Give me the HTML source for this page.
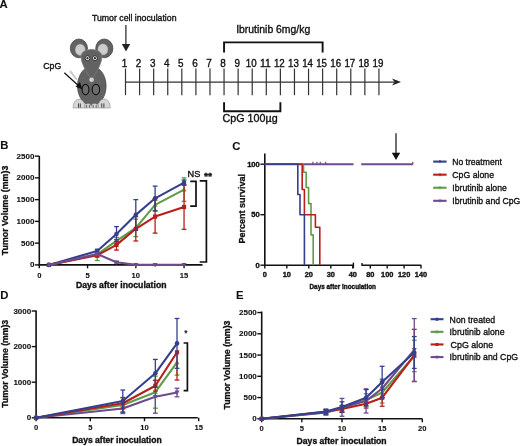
<!DOCTYPE html>
<html><head><meta charset="utf-8"><style>
html,body{margin:0;padding:0;background:#fff;}
svg{display:block;font-family:"Liberation Sans", sans-serif;will-change:transform;}
</style></head><body>
<svg width="520" height="446" viewBox="0 0 520 446">
<rect width="520" height="446" fill="#fff"/>
<text x="-0.4" y="8.2" font-size="11.3" font-weight="bold" fill="#111" stroke="#111" stroke-width="0.1">A</text>
<text x="92" y="21.3" font-size="8.8" textLength="84.5" lengthAdjust="spacingAndGlyphs" fill="#111" stroke="#111" stroke-width="0.35">Tumor cell inoculation</text>
<line x1="125.90" y1="25.00" x2="125.90" y2="46.00" stroke="#222" stroke-width="1.2"/>
<path d="M121.8,44 L130.2,44 L126,51.5 Z" fill="#222"/>
<line x1="125.50" y1="82.10" x2="394.00" y2="82.10" stroke="#333" stroke-width="1.3"/>
<path d="M392,78.6 L401,82.1 L392,85.6 L394.5,82.1 Z" fill="#222"/>
<line x1="125.50" y1="68.60" x2="125.50" y2="95.20" stroke="#333" stroke-width="1.2"/>
<text x="124.5" y="66.6" font-size="10.0" text-anchor="middle" textLength="5.5" lengthAdjust="spacingAndGlyphs" fill="#111" stroke="#111" stroke-width="0.35">1</text>
<line x1="139.58" y1="68.60" x2="139.58" y2="95.20" stroke="#333" stroke-width="1.2"/>
<text x="138.58" y="66.6" font-size="10.0" text-anchor="middle" textLength="5.5" lengthAdjust="spacingAndGlyphs" fill="#111" stroke="#111" stroke-width="0.35">2</text>
<line x1="153.66" y1="68.60" x2="153.66" y2="95.20" stroke="#333" stroke-width="1.2"/>
<text x="152.66" y="66.6" font-size="10.0" text-anchor="middle" textLength="5.5" lengthAdjust="spacingAndGlyphs" fill="#111" stroke="#111" stroke-width="0.35">3</text>
<line x1="167.74" y1="68.60" x2="167.74" y2="95.20" stroke="#333" stroke-width="1.2"/>
<text x="166.74" y="66.6" font-size="10.0" text-anchor="middle" textLength="5.5" lengthAdjust="spacingAndGlyphs" fill="#111" stroke="#111" stroke-width="0.35">4</text>
<line x1="181.82" y1="68.60" x2="181.82" y2="95.20" stroke="#333" stroke-width="1.2"/>
<text x="180.82" y="66.6" font-size="10.0" text-anchor="middle" textLength="5.5" lengthAdjust="spacingAndGlyphs" fill="#111" stroke="#111" stroke-width="0.35">5</text>
<line x1="195.90" y1="68.60" x2="195.90" y2="95.20" stroke="#333" stroke-width="1.2"/>
<text x="194.9" y="66.6" font-size="10.0" text-anchor="middle" textLength="5.5" lengthAdjust="spacingAndGlyphs" fill="#111" stroke="#111" stroke-width="0.35">6</text>
<line x1="209.98" y1="68.60" x2="209.98" y2="95.20" stroke="#333" stroke-width="1.2"/>
<text x="208.98" y="66.6" font-size="10.0" text-anchor="middle" textLength="5.5" lengthAdjust="spacingAndGlyphs" fill="#111" stroke="#111" stroke-width="0.35">7</text>
<line x1="224.06" y1="68.60" x2="224.06" y2="95.20" stroke="#333" stroke-width="1.2"/>
<text x="223.06" y="66.6" font-size="10.0" text-anchor="middle" textLength="5.5" lengthAdjust="spacingAndGlyphs" fill="#111" stroke="#111" stroke-width="0.35">8</text>
<line x1="238.14" y1="68.60" x2="238.14" y2="95.20" stroke="#333" stroke-width="1.2"/>
<text x="237.14" y="66.6" font-size="10.0" text-anchor="middle" textLength="5.5" lengthAdjust="spacingAndGlyphs" fill="#111" stroke="#111" stroke-width="0.35">9</text>
<line x1="252.22" y1="68.60" x2="252.22" y2="95.20" stroke="#333" stroke-width="1.2"/>
<text x="251.22" y="66.6" font-size="10.0" text-anchor="middle" textLength="10.8" lengthAdjust="spacingAndGlyphs" fill="#111" stroke="#111" stroke-width="0.35">10</text>
<line x1="266.30" y1="68.60" x2="266.30" y2="95.20" stroke="#333" stroke-width="1.2"/>
<text x="265.3" y="66.6" font-size="10.0" text-anchor="middle" textLength="10.8" lengthAdjust="spacingAndGlyphs" fill="#111" stroke="#111" stroke-width="0.35">11</text>
<line x1="280.38" y1="68.60" x2="280.38" y2="95.20" stroke="#333" stroke-width="1.2"/>
<text x="279.38" y="66.6" font-size="10.0" text-anchor="middle" textLength="10.8" lengthAdjust="spacingAndGlyphs" fill="#111" stroke="#111" stroke-width="0.35">12</text>
<line x1="294.46" y1="68.60" x2="294.46" y2="95.20" stroke="#333" stroke-width="1.2"/>
<text x="293.46" y="66.6" font-size="10.0" text-anchor="middle" textLength="10.8" lengthAdjust="spacingAndGlyphs" fill="#111" stroke="#111" stroke-width="0.35">13</text>
<line x1="308.54" y1="68.60" x2="308.54" y2="95.20" stroke="#333" stroke-width="1.2"/>
<text x="307.54" y="66.6" font-size="10.0" text-anchor="middle" textLength="10.8" lengthAdjust="spacingAndGlyphs" fill="#111" stroke="#111" stroke-width="0.35">14</text>
<line x1="322.62" y1="68.60" x2="322.62" y2="95.20" stroke="#333" stroke-width="1.2"/>
<text x="321.62" y="66.6" font-size="10.0" text-anchor="middle" textLength="10.8" lengthAdjust="spacingAndGlyphs" fill="#111" stroke="#111" stroke-width="0.35">15</text>
<line x1="336.70" y1="68.60" x2="336.70" y2="95.20" stroke="#333" stroke-width="1.2"/>
<text x="335.7" y="66.6" font-size="10.0" text-anchor="middle" textLength="10.8" lengthAdjust="spacingAndGlyphs" fill="#111" stroke="#111" stroke-width="0.35">16</text>
<line x1="350.78" y1="68.60" x2="350.78" y2="95.20" stroke="#333" stroke-width="1.2"/>
<text x="349.78" y="66.6" font-size="10.0" text-anchor="middle" textLength="10.8" lengthAdjust="spacingAndGlyphs" fill="#111" stroke="#111" stroke-width="0.35">17</text>
<line x1="364.86" y1="68.60" x2="364.86" y2="95.20" stroke="#333" stroke-width="1.2"/>
<text x="363.86" y="66.6" font-size="10.0" text-anchor="middle" textLength="10.8" lengthAdjust="spacingAndGlyphs" fill="#111" stroke="#111" stroke-width="0.35">18</text>
<line x1="378.94" y1="68.60" x2="378.94" y2="95.20" stroke="#333" stroke-width="1.2"/>
<text x="377.94" y="66.6" font-size="10.0" text-anchor="middle" textLength="10.8" lengthAdjust="spacingAndGlyphs" fill="#111" stroke="#111" stroke-width="0.35">19</text>
<path d="M224.06,52.5 L224.06,42.4 L322.62,42.4 L322.62,52.5" fill="none" stroke="#111" stroke-width="1.9"/>
<text x="236.2" y="33.4" font-size="10.5" textLength="74" lengthAdjust="spacingAndGlyphs" fill="#111" stroke="#111" stroke-width="0.35">Ibrutinib 6mg/kg</text>
<path d="M224.06,102.3 L224.06,111.2 L280.38,111.2 L280.38,102.3" fill="none" stroke="#111" stroke-width="1.9"/>
<text x="222.6" y="122.1" font-size="10.5" textLength="55" lengthAdjust="spacingAndGlyphs" fill="#111" stroke="#111" stroke-width="0.35">CpG 100µg</text>
<ellipse cx="78.9" cy="48.4" rx="8.6" ry="9.4" fill="#626262" stroke="#3e3e3e" stroke-width="0.7"/>
<ellipse cx="104.3" cy="48.4" rx="8.6" ry="9.4" fill="#626262" stroke="#3e3e3e" stroke-width="0.7"/>
<ellipse cx="80.2" cy="49.7" rx="5.1" ry="5.7" fill="#cdcdcd" stroke="#8a8a8a" stroke-width="0.5"/>
<ellipse cx="102.9" cy="49.4" rx="5.1" ry="5.7" fill="#cdcdcd" stroke="#8a8a8a" stroke-width="0.5"/>
<path d="M70.6,71.6 L73.5,75.5 L76.2,79" fill="none" stroke="#c6c6c6" stroke-width="1.9" stroke-linecap="round"/>
<circle cx="71" cy="72.2" r="1.3" fill="#cfcfcf"/>
<ellipse cx="91.8" cy="86" rx="14.3" ry="19.6" fill="#626262" stroke="#3e3e3e" stroke-width="0.7"/>
<path d="M91.6,79.5 C86,72 80.6,62 81.1,56 C81.8,47.4 101.2,47.4 101.8,56 C102.3,62 97.2,72 91.6,79.5 Z" fill="#626262" stroke="#7c7c7c" stroke-width="0.8"/>
<circle cx="87.5" cy="58.2" r="2.45" fill="#ececec" stroke="#262626" stroke-width="0.9"/>
<circle cx="87.5" cy="58.2" r="1.1" fill="#262626"/>
<circle cx="94.9" cy="58.2" r="2.45" fill="#ececec" stroke="#262626" stroke-width="0.9"/>
<circle cx="94.9" cy="58.2" r="1.1" fill="#262626"/>
<circle cx="91.6" cy="79.8" r="2.3" fill="#d4d4d4"/>
<ellipse cx="85.5" cy="89.6" rx="3.4" ry="5.2" fill="#6c6c6c" stroke="#141414" stroke-width="1.2"/>
<ellipse cx="95.9" cy="89.6" rx="3.7" ry="5.2" fill="#6c6c6c" stroke="#141414" stroke-width="1.2"/>
<path d="M73.1,108 C73.1,96.3 84.9,96.3 84.9,108 Z" fill="#d6d6d6" stroke="#8a8a8a" stroke-width="0.6"/>
<path d="M98,108 C98,96 110.2,96 110.2,108 Z" fill="#d6d6d6" stroke="#8a8a8a" stroke-width="0.6"/>
<path d="M84.8,108 L84.8,106.5 C84.8,102.5 91.2,102.5 91.2,106.5 C91.2,102.5 98,102.5 98,106.5 L98,108 Z" fill="#d6d6d6" stroke="#7a7a7a" stroke-width="0.5"/>
<line x1="78.50" y1="103.40" x2="78.50" y2="107.70" stroke="#222" stroke-width="0.8"/>
<line x1="80.30" y1="103.40" x2="80.30" y2="107.70" stroke="#222" stroke-width="0.8"/>
<line x1="101.80" y1="103.40" x2="101.80" y2="107.70" stroke="#222" stroke-width="0.8"/>
<line x1="103.90" y1="103.40" x2="103.90" y2="107.70" stroke="#222" stroke-width="0.8"/>
<line x1="86.60" y1="105.00" x2="86.60" y2="107.70" stroke="#333" stroke-width="0.7"/>
<line x1="89.40" y1="105.00" x2="89.40" y2="107.70" stroke="#333" stroke-width="0.7"/>
<line x1="93.20" y1="105.00" x2="93.20" y2="107.70" stroke="#333" stroke-width="0.7"/>
<line x1="96.20" y1="105.00" x2="96.20" y2="107.70" stroke="#333" stroke-width="0.7"/>
<text x="43.2" y="69.4" font-size="8.6" textLength="18" lengthAdjust="spacingAndGlyphs" fill="#111" stroke="#111" stroke-width="0.35">CpG</text>
<line x1="64.30" y1="72.80" x2="78.60" y2="85.80" stroke="#111" stroke-width="1.2"/>
<path d="M82.3,89.2 L75.6,86.8 L79.9,82 Z" fill="#111"/>
<text x="0.2" y="149.3" font-size="11.3" font-weight="bold" fill="#111" stroke="#111" stroke-width="0.1">B</text>
<line x1="39.30" y1="156.00" x2="39.30" y2="265.70" stroke="#111" stroke-width="1.6"/>
<line x1="34.90" y1="264.90" x2="39.30" y2="264.90" stroke="#111" stroke-width="1.4"/>
<text x="34.4" y="267.4" font-size="8" font-weight="bold" text-anchor="end" fill="#111" stroke="#111" stroke-width="0.1">0</text>
<line x1="34.90" y1="243.14" x2="39.30" y2="243.14" stroke="#111" stroke-width="1.4"/>
<text x="34.4" y="245.64" font-size="8" font-weight="bold" text-anchor="end" fill="#111" stroke="#111" stroke-width="0.1">500</text>
<line x1="34.90" y1="221.38" x2="39.30" y2="221.38" stroke="#111" stroke-width="1.4"/>
<text x="34.4" y="223.88" font-size="8" font-weight="bold" text-anchor="end" fill="#111" stroke="#111" stroke-width="0.1">1000</text>
<line x1="34.90" y1="199.62" x2="39.30" y2="199.62" stroke="#111" stroke-width="1.4"/>
<text x="34.4" y="202.12" font-size="8" font-weight="bold" text-anchor="end" fill="#111" stroke="#111" stroke-width="0.1">1500</text>
<line x1="34.90" y1="177.86" x2="39.30" y2="177.86" stroke="#111" stroke-width="1.4"/>
<text x="34.4" y="180.36" font-size="8" font-weight="bold" text-anchor="end" fill="#111" stroke="#111" stroke-width="0.1">2000</text>
<line x1="34.90" y1="156.10" x2="39.30" y2="156.10" stroke="#111" stroke-width="1.4"/>
<text x="34.4" y="158.6" font-size="8" font-weight="bold" text-anchor="end" fill="#111" stroke="#111" stroke-width="0.1">2500</text>
<line x1="38.50" y1="264.90" x2="202.50" y2="264.90" stroke="#111" stroke-width="1.6"/>
<line x1="39.30" y1="264.90" x2="39.30" y2="268.30" stroke="#111" stroke-width="1.4"/>
<text x="39.3" y="277.5" font-size="7.6" font-weight="bold" text-anchor="middle" fill="#111" stroke="#111" stroke-width="0.1">0</text>
<line x1="87.55" y1="264.90" x2="87.55" y2="268.30" stroke="#111" stroke-width="1.4"/>
<text x="87.55" y="277.5" font-size="7.6" font-weight="bold" text-anchor="middle" fill="#111" stroke="#111" stroke-width="0.1">5</text>
<line x1="135.80" y1="264.90" x2="135.80" y2="268.30" stroke="#111" stroke-width="1.4"/>
<text x="135.8" y="277.5" font-size="7.6" font-weight="bold" text-anchor="middle" fill="#111" stroke="#111" stroke-width="0.1">10</text>
<line x1="184.05" y1="264.90" x2="184.05" y2="268.30" stroke="#111" stroke-width="1.4"/>
<text x="184.05" y="277.5" font-size="7.6" font-weight="bold" text-anchor="middle" fill="#111" stroke="#111" stroke-width="0.1">15</text>
<text transform="translate(8.3,255.2) rotate(-90)" x="0" y="0" font-size="8.6" font-weight="bold" textLength="89.5" lengthAdjust="spacingAndGlyphs" fill="#111" stroke="#111" stroke-width="0.3">Tumor Volume (mm)3</text>
<text x="76.0" y="288.4" font-size="8.6" font-weight="bold" textLength="90.5" lengthAdjust="spacingAndGlyphs" fill="#111" stroke="#111" stroke-width="0.35">Days after inoculation</text>
<line x1="97.20" y1="254.46" x2="97.20" y2="260.55" stroke="#5e9c47" stroke-width="1.3"/>
<line x1="94.80" y1="260.55" x2="99.60" y2="260.55" stroke="#5e9c47" stroke-width="1.3"/>
<line x1="116.50" y1="237.48" x2="116.50" y2="244.45" stroke="#5e9c47" stroke-width="1.3"/>
<line x1="114.10" y1="237.48" x2="118.90" y2="237.48" stroke="#5e9c47" stroke-width="1.3"/>
<line x1="114.10" y1="244.45" x2="118.90" y2="244.45" stroke="#5e9c47" stroke-width="1.3"/>
<line x1="135.80" y1="219.20" x2="135.80" y2="236.61" stroke="#5e9c47" stroke-width="1.3"/>
<line x1="133.40" y1="219.20" x2="138.20" y2="219.20" stroke="#5e9c47" stroke-width="1.3"/>
<line x1="133.40" y1="236.61" x2="138.20" y2="236.61" stroke="#5e9c47" stroke-width="1.3"/>
<line x1="155.10" y1="198.31" x2="155.10" y2="211.37" stroke="#5e9c47" stroke-width="1.3"/>
<line x1="152.70" y1="198.31" x2="157.50" y2="198.31" stroke="#5e9c47" stroke-width="1.3"/>
<line x1="152.70" y1="211.37" x2="157.50" y2="211.37" stroke="#5e9c47" stroke-width="1.3"/>
<line x1="184.05" y1="177.86" x2="184.05" y2="201.36" stroke="#5e9c47" stroke-width="1.3"/>
<line x1="181.65" y1="177.86" x2="186.45" y2="177.86" stroke="#5e9c47" stroke-width="1.3"/>
<line x1="181.65" y1="201.36" x2="186.45" y2="201.36" stroke="#5e9c47" stroke-width="1.3"/>
<polyline points="48.95,264.90 97.20,254.46 116.50,240.96 135.80,227.91 155.10,204.84 184.05,189.61" fill="none" stroke="#5e9c47" stroke-width="2.1" stroke-linejoin="round"/>
<path d="M48.95,262.20 L51.45,266.80 L46.45,266.80 Z" fill="#5e9c47"/>
<path d="M97.20,251.76 L99.70,256.36 L94.70,256.36 Z" fill="#5e9c47"/>
<path d="M116.50,238.26 L119.00,242.86 L114.00,242.86 Z" fill="#5e9c47"/>
<path d="M135.80,225.21 L138.30,229.81 L133.30,229.81 Z" fill="#5e9c47"/>
<path d="M155.10,202.14 L157.60,206.74 L152.60,206.74 Z" fill="#5e9c47"/>
<path d="M184.05,186.91 L186.55,191.51 L181.55,191.51 Z" fill="#5e9c47"/>
<line x1="97.20" y1="253.58" x2="97.20" y2="257.07" stroke="#b81e1a" stroke-width="1.3"/>
<line x1="94.80" y1="253.58" x2="99.60" y2="253.58" stroke="#b81e1a" stroke-width="1.3"/>
<line x1="94.80" y1="257.07" x2="99.60" y2="257.07" stroke="#b81e1a" stroke-width="1.3"/>
<line x1="116.50" y1="239.66" x2="116.50" y2="250.10" stroke="#b81e1a" stroke-width="1.3"/>
<line x1="114.10" y1="239.66" x2="118.90" y2="239.66" stroke="#b81e1a" stroke-width="1.3"/>
<line x1="114.10" y1="250.10" x2="118.90" y2="250.10" stroke="#b81e1a" stroke-width="1.3"/>
<line x1="135.80" y1="216.59" x2="135.80" y2="240.96" stroke="#b81e1a" stroke-width="1.3"/>
<line x1="133.40" y1="216.59" x2="138.20" y2="216.59" stroke="#b81e1a" stroke-width="1.3"/>
<line x1="133.40" y1="240.96" x2="138.20" y2="240.96" stroke="#b81e1a" stroke-width="1.3"/>
<line x1="155.10" y1="200.06" x2="155.10" y2="233.13" stroke="#b81e1a" stroke-width="1.3"/>
<line x1="152.70" y1="200.06" x2="157.50" y2="200.06" stroke="#b81e1a" stroke-width="1.3"/>
<line x1="152.70" y1="233.13" x2="157.50" y2="233.13" stroke="#b81e1a" stroke-width="1.3"/>
<line x1="184.05" y1="184.74" x2="184.05" y2="229.30" stroke="#b81e1a" stroke-width="1.3"/>
<line x1="181.65" y1="184.74" x2="186.45" y2="184.74" stroke="#b81e1a" stroke-width="1.3"/>
<line x1="181.65" y1="229.30" x2="186.45" y2="229.30" stroke="#b81e1a" stroke-width="1.3"/>
<polyline points="48.95,264.90 97.20,255.33 116.50,244.88 135.80,228.78 155.10,216.59 184.05,207.02" fill="none" stroke="#b81e1a" stroke-width="2.1" stroke-linejoin="round"/>
<rect x="46.85" y="262.80" width="4.20" height="4.20" fill="#b81e1a"/>
<rect x="95.10" y="253.23" width="4.20" height="4.20" fill="#b81e1a"/>
<rect x="114.40" y="242.78" width="4.20" height="4.20" fill="#b81e1a"/>
<rect x="133.70" y="226.68" width="4.20" height="4.20" fill="#b81e1a"/>
<rect x="153.00" y="214.49" width="4.20" height="4.20" fill="#b81e1a"/>
<rect x="181.95" y="204.92" width="4.20" height="4.20" fill="#b81e1a"/>
<line x1="97.20" y1="249.23" x2="97.20" y2="252.71" stroke="#343f8e" stroke-width="1.3"/>
<line x1="94.80" y1="249.23" x2="99.60" y2="249.23" stroke="#343f8e" stroke-width="1.3"/>
<line x1="94.80" y1="252.71" x2="99.60" y2="252.71" stroke="#343f8e" stroke-width="1.3"/>
<line x1="116.50" y1="226.60" x2="116.50" y2="241.40" stroke="#343f8e" stroke-width="1.3"/>
<line x1="114.10" y1="226.60" x2="118.90" y2="226.60" stroke="#343f8e" stroke-width="1.3"/>
<line x1="114.10" y1="241.40" x2="118.90" y2="241.40" stroke="#343f8e" stroke-width="1.3"/>
<line x1="135.80" y1="199.62" x2="135.80" y2="230.08" stroke="#343f8e" stroke-width="1.3"/>
<line x1="133.40" y1="199.62" x2="138.20" y2="199.62" stroke="#343f8e" stroke-width="1.3"/>
<line x1="133.40" y1="230.08" x2="138.20" y2="230.08" stroke="#343f8e" stroke-width="1.3"/>
<line x1="155.10" y1="186.13" x2="155.10" y2="210.50" stroke="#343f8e" stroke-width="1.3"/>
<line x1="152.70" y1="186.13" x2="157.50" y2="186.13" stroke="#343f8e" stroke-width="1.3"/>
<line x1="152.70" y1="210.50" x2="157.50" y2="210.50" stroke="#343f8e" stroke-width="1.3"/>
<line x1="184.05" y1="180.04" x2="184.05" y2="185.26" stroke="#343f8e" stroke-width="1.3"/>
<line x1="181.65" y1="180.04" x2="186.45" y2="180.04" stroke="#343f8e" stroke-width="1.3"/>
<line x1="181.65" y1="185.26" x2="186.45" y2="185.26" stroke="#343f8e" stroke-width="1.3"/>
<polyline points="48.95,264.90 97.20,250.97 116.50,234.00 135.80,214.85 155.10,198.31 184.05,182.65" fill="none" stroke="#343f8e" stroke-width="2.1" stroke-linejoin="round"/>
<circle cx="48.95" cy="264.90" r="2.30" fill="#343f8e"/>
<circle cx="97.20" cy="250.97" r="2.30" fill="#343f8e"/>
<circle cx="116.50" cy="234.00" r="2.30" fill="#343f8e"/>
<circle cx="135.80" cy="214.85" r="2.30" fill="#343f8e"/>
<circle cx="155.10" cy="198.31" r="2.30" fill="#343f8e"/>
<circle cx="184.05" cy="182.65" r="2.30" fill="#343f8e"/>
<line x1="97.20" y1="252.71" x2="97.20" y2="255.33" stroke="#6c4b8e" stroke-width="1.3"/>
<line x1="94.80" y1="252.71" x2="99.60" y2="252.71" stroke="#6c4b8e" stroke-width="1.3"/>
<line x1="94.80" y1="255.33" x2="99.60" y2="255.33" stroke="#6c4b8e" stroke-width="1.3"/>
<line x1="116.50" y1="261.42" x2="116.50" y2="263.16" stroke="#6c4b8e" stroke-width="1.3"/>
<line x1="114.10" y1="261.42" x2="118.90" y2="261.42" stroke="#6c4b8e" stroke-width="1.3"/>
<line x1="114.10" y1="263.16" x2="118.90" y2="263.16" stroke="#6c4b8e" stroke-width="1.3"/>
<polyline points="48.95,264.90 97.20,254.02 116.50,262.29 135.80,264.90 155.10,264.90 184.05,264.90" fill="none" stroke="#6c4b8e" stroke-width="2.1" stroke-linejoin="round"/>
<path d="M48.95,267.60 L51.45,263.00 L46.45,263.00 Z" fill="#6c4b8e"/>
<path d="M97.20,256.72 L99.70,252.12 L94.70,252.12 Z" fill="#6c4b8e"/>
<path d="M116.50,264.99 L119.00,260.39 L114.00,260.39 Z" fill="#6c4b8e"/>
<path d="M135.80,267.60 L138.30,263.00 L133.30,263.00 Z" fill="#6c4b8e"/>
<path d="M155.10,267.60 L157.60,263.00 L152.60,263.00 Z" fill="#6c4b8e"/>
<path d="M184.05,267.60 L186.55,263.00 L181.55,263.00 Z" fill="#6c4b8e"/>
<path d="M190.2,181.3 L196,181.3 L196,206.2 L190.2,206.2" fill="none" stroke="#111" stroke-width="1.7"/>
<path d="M199.7,180.8 L206.4,180.8 L206.4,262 L199.7,262" fill="none" stroke="#111" stroke-width="1.7"/>
<text x="187.6" y="176.8" font-size="8.8" textLength="12.8" lengthAdjust="spacingAndGlyphs" fill="#111" stroke="#111" stroke-width="0.35">NS</text>
<text x="204.0" y="178.8" font-size="8.5" font-weight="bold" textLength="8.2" lengthAdjust="spacingAndGlyphs" fill="#111" stroke="#111" stroke-width="0.35">**</text>
<text x="232.3" y="150.2" font-size="11.3" font-weight="bold" fill="#111" stroke="#111" stroke-width="0.1">C</text>
<line x1="264.80" y1="153.50" x2="264.80" y2="266.00" stroke="#111" stroke-width="1.6"/>
<line x1="260.40" y1="265.20" x2="264.80" y2="265.20" stroke="#111" stroke-width="1.4"/>
<text x="259.8" y="267.95" font-size="7.6" font-weight="bold" text-anchor="end" fill="#111" stroke="#111" stroke-width="0.35">0</text>
<line x1="260.40" y1="214.70" x2="264.80" y2="214.70" stroke="#111" stroke-width="1.4"/>
<text x="259.8" y="217.45" font-size="7.6" font-weight="bold" text-anchor="end" fill="#111" stroke="#111" stroke-width="0.35">50</text>
<line x1="260.40" y1="164.20" x2="264.80" y2="164.20" stroke="#111" stroke-width="1.4"/>
<text x="259.8" y="166.95" font-size="7.6" font-weight="bold" text-anchor="end" fill="#111" stroke="#111" stroke-width="0.35">100</text>
<line x1="264.00" y1="265.20" x2="353.40" y2="265.20" stroke="#111" stroke-width="1.6"/>
<line x1="353.40" y1="262.60" x2="353.40" y2="268.20" stroke="#111" stroke-width="1.4"/>
<line x1="264.80" y1="265.20" x2="264.80" y2="268.40" stroke="#111" stroke-width="1.4"/>
<text x="264.8" y="277.0" font-size="7.4" font-weight="bold" text-anchor="middle" fill="#111" stroke="#111" stroke-width="0.35">0</text>
<line x1="286.80" y1="265.20" x2="286.80" y2="268.40" stroke="#111" stroke-width="1.4"/>
<text x="286.8" y="277.0" font-size="7.4" font-weight="bold" text-anchor="middle" fill="#111" stroke="#111" stroke-width="0.35">10</text>
<line x1="308.80" y1="265.20" x2="308.80" y2="268.40" stroke="#111" stroke-width="1.4"/>
<text x="308.8" y="277.0" font-size="7.4" font-weight="bold" text-anchor="middle" fill="#111" stroke="#111" stroke-width="0.35">20</text>
<line x1="330.80" y1="265.20" x2="330.80" y2="268.40" stroke="#111" stroke-width="1.4"/>
<text x="330.8" y="277.0" font-size="7.4" font-weight="bold" text-anchor="middle" fill="#111" stroke="#111" stroke-width="0.35">30</text>
<line x1="352.80" y1="265.20" x2="352.80" y2="268.40" stroke="#111" stroke-width="1.4"/>
<text x="352.8" y="277.0" font-size="7.4" font-weight="bold" text-anchor="middle" fill="#111" stroke="#111" stroke-width="0.35">40</text>
<line x1="362.00" y1="265.20" x2="421.30" y2="265.20" stroke="#111" stroke-width="1.6"/>
<line x1="362.00" y1="263.00" x2="362.00" y2="266.00" stroke="#111" stroke-width="1.4"/>
<line x1="370.30" y1="265.20" x2="370.30" y2="268.40" stroke="#111" stroke-width="1.4"/>
<text x="370.3" y="277.0" font-size="7.4" font-weight="bold" text-anchor="middle" fill="#111" stroke="#111" stroke-width="0.35">80</text>
<line x1="387.20" y1="265.20" x2="387.20" y2="268.40" stroke="#111" stroke-width="1.4"/>
<text x="387.2" y="277.0" font-size="7.4" font-weight="bold" text-anchor="middle" fill="#111" stroke="#111" stroke-width="0.35">100</text>
<line x1="404.10" y1="265.20" x2="404.10" y2="268.40" stroke="#111" stroke-width="1.4"/>
<text x="404.1" y="277.0" font-size="7.4" font-weight="bold" text-anchor="middle" fill="#111" stroke="#111" stroke-width="0.35">120</text>
<line x1="421.00" y1="265.20" x2="421.00" y2="268.40" stroke="#111" stroke-width="1.4"/>
<text x="421.0" y="277.0" font-size="7.4" font-weight="bold" text-anchor="middle" fill="#111" stroke="#111" stroke-width="0.35">140</text>
<text transform="translate(245.3,243.6) rotate(-90)" x="0" y="0" font-size="9" font-weight="bold" textLength="69.6" lengthAdjust="spacingAndGlyphs" fill="#111" stroke="#111" stroke-width="0.3">Percent survival</text>
<text x="309.5" y="288.6" font-size="6.4" font-weight="bold" textLength="66.5" lengthAdjust="spacingAndGlyphs" fill="#111" stroke="#111" stroke-width="0.35">Days after inoculation</text>
<line x1="264.80" y1="164.20" x2="353.50" y2="164.20" stroke="#6c4b8e" stroke-width="1.9"/>
<line x1="361.20" y1="164.20" x2="413.00" y2="164.20" stroke="#6c4b8e" stroke-width="1.9"/>
<line x1="412.80" y1="164.20" x2="412.80" y2="161.80" stroke="#6c4b8e" stroke-width="1.2"/>
<line x1="312.90" y1="164.20" x2="312.90" y2="161.80" stroke="#6c4b8e" stroke-width="1.2"/>
<line x1="316.90" y1="164.20" x2="316.90" y2="161.80" stroke="#6c4b8e" stroke-width="1.2"/>
<line x1="320.30" y1="164.20" x2="320.30" y2="161.80" stroke="#6c4b8e" stroke-width="1.2"/>
<line x1="325.70" y1="164.20" x2="325.70" y2="161.80" stroke="#6c4b8e" stroke-width="1.2"/>
<polyline points="264.80,164.20 303.52,164.20 303.52,172.28 306.16,172.28 306.16,187.43 308.58,187.43 308.58,203.59 311.00,203.59 311.00,234.90 313.20,234.90 313.20,265.20" fill="none" stroke="#5e9c47" stroke-width="1.6" stroke-linejoin="round" stroke-linejoin="miter"/>
<polyline points="264.80,164.20 302.20,164.20 302.20,189.45 304.40,189.45 304.40,214.70 315.40,214.70 315.40,227.32 319.80,227.32 319.80,265.20" fill="none" stroke="#b81e1a" stroke-width="1.6" stroke-linejoin="round" stroke-linejoin="miter"/>
<polyline points="264.80,164.20 297.80,164.20 297.80,194.50 300.00,194.50 300.00,214.70 304.40,214.70 304.40,265.20" fill="none" stroke="#343f8e" stroke-width="1.6" stroke-linejoin="round" stroke-linejoin="miter"/>
<line x1="396.00" y1="133.30" x2="396.00" y2="154.00" stroke="#111" stroke-width="1.2"/>
<path d="M391.8,152.8 L400.2,152.8 L396,160 Z" fill="#111"/>
<line x1="433.20" y1="161.60" x2="446.60" y2="161.60" stroke="#343f8e" stroke-width="2.1"/>
<line x1="440.00" y1="160.10" x2="440.00" y2="163.10" stroke="#343f8e" stroke-width="1.2"/>
<text x="452.3" y="164.8" font-size="9.6" textLength="49.5" lengthAdjust="spacingAndGlyphs" fill="#111" stroke="#111" stroke-width="0.35">No treatment</text>
<line x1="433.20" y1="174.67" x2="446.60" y2="174.67" stroke="#b81e1a" stroke-width="2.1"/>
<line x1="440.00" y1="173.17" x2="440.00" y2="176.17" stroke="#b81e1a" stroke-width="1.2"/>
<text x="452.3" y="177.87" font-size="9.6" textLength="41.8" lengthAdjust="spacingAndGlyphs" fill="#111" stroke="#111" stroke-width="0.35">CpG alone</text>
<line x1="433.20" y1="187.74" x2="446.60" y2="187.74" stroke="#5e9c47" stroke-width="2.1"/>
<line x1="440.00" y1="186.24" x2="440.00" y2="189.24" stroke="#5e9c47" stroke-width="1.2"/>
<text x="452.3" y="190.94" font-size="9.6" textLength="54.5" lengthAdjust="spacingAndGlyphs" fill="#111" stroke="#111" stroke-width="0.35">Ibrutinib alone</text>
<line x1="433.20" y1="200.81" x2="446.60" y2="200.81" stroke="#6c4b8e" stroke-width="2.1"/>
<line x1="440.00" y1="199.31" x2="440.00" y2="202.31" stroke="#6c4b8e" stroke-width="1.2"/>
<text x="452.3" y="204.01" font-size="9.6" textLength="68" lengthAdjust="spacingAndGlyphs" fill="#111" stroke="#111" stroke-width="0.35">Ibrutinib and CpG</text>
<text x="0.2" y="298.7" font-size="11.3" font-weight="bold" fill="#111" stroke="#111" stroke-width="0.1">D</text>
<line x1="36.10" y1="310.50" x2="36.10" y2="418.60" stroke="#111" stroke-width="1.6"/>
<line x1="31.70" y1="417.80" x2="36.10" y2="417.80" stroke="#111" stroke-width="1.4"/>
<text x="31.2" y="420.3" font-size="8" font-weight="bold" text-anchor="end" fill="#111" stroke="#111" stroke-width="0.1">0</text>
<line x1="31.70" y1="382.20" x2="36.10" y2="382.20" stroke="#111" stroke-width="1.4"/>
<text x="31.2" y="384.7" font-size="8" font-weight="bold" text-anchor="end" fill="#111" stroke="#111" stroke-width="0.1">1000</text>
<line x1="31.70" y1="346.60" x2="36.10" y2="346.60" stroke="#111" stroke-width="1.4"/>
<text x="31.2" y="349.1" font-size="8" font-weight="bold" text-anchor="end" fill="#111" stroke="#111" stroke-width="0.1">2000</text>
<line x1="31.70" y1="311.00" x2="36.10" y2="311.00" stroke="#111" stroke-width="1.4"/>
<text x="31.2" y="313.5" font-size="8" font-weight="bold" text-anchor="end" fill="#111" stroke="#111" stroke-width="0.1">3000</text>
<line x1="35.30" y1="417.80" x2="197.80" y2="417.80" stroke="#111" stroke-width="1.6"/>
<line x1="36.10" y1="417.80" x2="36.10" y2="421.20" stroke="#111" stroke-width="1.4"/>
<text x="36.1" y="430.4" font-size="7.6" font-weight="bold" text-anchor="middle" fill="#111" stroke="#111" stroke-width="0.1">0</text>
<line x1="90.30" y1="417.80" x2="90.30" y2="421.20" stroke="#111" stroke-width="1.4"/>
<text x="90.3" y="430.4" font-size="7.6" font-weight="bold" text-anchor="middle" fill="#111" stroke="#111" stroke-width="0.1">5</text>
<line x1="144.50" y1="417.80" x2="144.50" y2="421.20" stroke="#111" stroke-width="1.4"/>
<text x="144.5" y="430.4" font-size="7.6" font-weight="bold" text-anchor="middle" fill="#111" stroke="#111" stroke-width="0.1">10</text>
<line x1="198.70" y1="417.80" x2="198.70" y2="421.20" stroke="#111" stroke-width="1.4"/>
<text x="198.7" y="430.4" font-size="7.6" font-weight="bold" text-anchor="middle" fill="#111" stroke="#111" stroke-width="0.1">15</text>
<text transform="translate(8.2,407.8) rotate(-90)" x="0" y="0" font-size="8.6" font-weight="bold" textLength="88" lengthAdjust="spacingAndGlyphs" fill="#111" stroke="#111" stroke-width="0.3">Tumor Volume (mm)3</text>
<text x="72.2" y="443.0" font-size="8.6" font-weight="bold" textLength="89.5" lengthAdjust="spacingAndGlyphs" fill="#111" stroke="#111" stroke-width="0.35">Days after inoculation</text>
<line x1="122.82" y1="397.86" x2="122.82" y2="412.10" stroke="#5e9c47" stroke-width="1.3"/>
<line x1="120.42" y1="397.86" x2="125.22" y2="397.86" stroke="#5e9c47" stroke-width="1.3"/>
<line x1="120.42" y1="412.10" x2="125.22" y2="412.10" stroke="#5e9c47" stroke-width="1.3"/>
<line x1="155.34" y1="376.15" x2="155.34" y2="408.19" stroke="#5e9c47" stroke-width="1.3"/>
<line x1="152.94" y1="376.15" x2="157.74" y2="376.15" stroke="#5e9c47" stroke-width="1.3"/>
<line x1="152.94" y1="408.19" x2="157.74" y2="408.19" stroke="#5e9c47" stroke-width="1.3"/>
<line x1="177.02" y1="362.26" x2="177.02" y2="375.08" stroke="#5e9c47" stroke-width="1.3"/>
<line x1="174.62" y1="375.08" x2="179.42" y2="375.08" stroke="#5e9c47" stroke-width="1.3"/>
<polyline points="36.10,417.80 122.82,404.98 155.34,392.17 177.02,362.26" fill="none" stroke="#5e9c47" stroke-width="2.1" stroke-linejoin="round"/>
<path d="M36.10,415.10 L38.60,419.70 L33.60,419.70 Z" fill="#5e9c47"/>
<path d="M122.82,402.28 L125.32,406.88 L120.32,406.88 Z" fill="#5e9c47"/>
<path d="M155.34,389.47 L157.84,394.07 L152.84,394.07 Z" fill="#5e9c47"/>
<path d="M177.02,359.56 L179.52,364.16 L174.52,364.16 Z" fill="#5e9c47"/>
<line x1="122.82" y1="403.56" x2="122.82" y2="413.53" stroke="#6c4b8e" stroke-width="1.3"/>
<line x1="120.42" y1="403.56" x2="125.22" y2="403.56" stroke="#6c4b8e" stroke-width="1.3"/>
<line x1="120.42" y1="413.53" x2="125.22" y2="413.53" stroke="#6c4b8e" stroke-width="1.3"/>
<line x1="155.34" y1="380.42" x2="155.34" y2="413.17" stroke="#6c4b8e" stroke-width="1.3"/>
<line x1="152.94" y1="380.42" x2="157.74" y2="380.42" stroke="#6c4b8e" stroke-width="1.3"/>
<line x1="152.94" y1="413.17" x2="157.74" y2="413.17" stroke="#6c4b8e" stroke-width="1.3"/>
<line x1="177.02" y1="388.25" x2="177.02" y2="396.80" stroke="#6c4b8e" stroke-width="1.3"/>
<line x1="174.62" y1="388.25" x2="179.42" y2="388.25" stroke="#6c4b8e" stroke-width="1.3"/>
<line x1="174.62" y1="396.80" x2="179.42" y2="396.80" stroke="#6c4b8e" stroke-width="1.3"/>
<polyline points="36.10,417.80 122.82,408.54 155.34,396.80 177.02,392.52" fill="none" stroke="#6c4b8e" stroke-width="2.1" stroke-linejoin="round"/>
<path d="M36.10,420.50 L38.60,415.90 L33.60,415.90 Z" fill="#6c4b8e"/>
<path d="M122.82,411.24 L125.32,406.64 L120.32,406.64 Z" fill="#6c4b8e"/>
<path d="M155.34,399.50 L157.84,394.90 L152.84,394.90 Z" fill="#6c4b8e"/>
<path d="M177.02,395.22 L179.52,390.62 L174.52,390.62 Z" fill="#6c4b8e"/>
<line x1="122.82" y1="397.51" x2="122.82" y2="408.90" stroke="#b81e1a" stroke-width="1.3"/>
<line x1="120.42" y1="397.51" x2="125.22" y2="397.51" stroke="#b81e1a" stroke-width="1.3"/>
<line x1="120.42" y1="408.90" x2="125.22" y2="408.90" stroke="#b81e1a" stroke-width="1.3"/>
<line x1="155.34" y1="380.42" x2="155.34" y2="391.10" stroke="#b81e1a" stroke-width="1.3"/>
<line x1="152.94" y1="380.42" x2="157.74" y2="380.42" stroke="#b81e1a" stroke-width="1.3"/>
<line x1="152.94" y1="391.10" x2="157.74" y2="391.10" stroke="#b81e1a" stroke-width="1.3"/>
<line x1="177.02" y1="352.30" x2="177.02" y2="380.06" stroke="#b81e1a" stroke-width="1.3"/>
<line x1="174.62" y1="380.06" x2="179.42" y2="380.06" stroke="#b81e1a" stroke-width="1.3"/>
<polyline points="36.10,417.80 122.82,403.20 155.34,385.76 177.02,352.30" fill="none" stroke="#b81e1a" stroke-width="2.1" stroke-linejoin="round"/>
<rect x="34.00" y="415.70" width="4.20" height="4.20" fill="#b81e1a"/>
<rect x="120.72" y="401.10" width="4.20" height="4.20" fill="#b81e1a"/>
<rect x="153.24" y="383.66" width="4.20" height="4.20" fill="#b81e1a"/>
<rect x="174.92" y="350.20" width="4.20" height="4.20" fill="#b81e1a"/>
<line x1="122.82" y1="390.03" x2="122.82" y2="412.10" stroke="#343f8e" stroke-width="1.3"/>
<line x1="120.42" y1="390.03" x2="125.22" y2="390.03" stroke="#343f8e" stroke-width="1.3"/>
<line x1="120.42" y1="412.10" x2="125.22" y2="412.10" stroke="#343f8e" stroke-width="1.3"/>
<line x1="155.34" y1="359.42" x2="155.34" y2="387.18" stroke="#343f8e" stroke-width="1.3"/>
<line x1="152.94" y1="359.42" x2="157.74" y2="359.42" stroke="#343f8e" stroke-width="1.3"/>
<line x1="152.94" y1="387.18" x2="157.74" y2="387.18" stroke="#343f8e" stroke-width="1.3"/>
<line x1="177.02" y1="318.48" x2="177.02" y2="368.32" stroke="#343f8e" stroke-width="1.3"/>
<line x1="174.62" y1="318.48" x2="179.42" y2="318.48" stroke="#343f8e" stroke-width="1.3"/>
<line x1="174.62" y1="368.32" x2="179.42" y2="368.32" stroke="#343f8e" stroke-width="1.3"/>
<polyline points="36.10,417.80 122.82,401.07 155.34,373.30 177.02,343.40" fill="none" stroke="#343f8e" stroke-width="2.1" stroke-linejoin="round"/>
<circle cx="36.10" cy="417.80" r="2.30" fill="#343f8e"/>
<circle cx="122.82" cy="401.07" r="2.30" fill="#343f8e"/>
<circle cx="155.34" cy="373.30" r="2.30" fill="#343f8e"/>
<circle cx="177.02" cy="343.40" r="2.30" fill="#343f8e"/>
<path d="M183.6,343 L187.4,343 L187.4,390.7 L183.6,390.7" fill="none" stroke="#111" stroke-width="1.7"/>
<text x="184.3" y="336.2" font-size="8.5" fill="#111" stroke="#111" stroke-width="0.2">*</text>
<text x="235.9" y="298.7" font-size="11.3" font-weight="bold" fill="#111" stroke="#111" stroke-width="0.1">E</text>
<line x1="261.70" y1="311.50" x2="261.70" y2="419.60" stroke="#111" stroke-width="1.6"/>
<line x1="257.30" y1="418.80" x2="261.70" y2="418.80" stroke="#111" stroke-width="1.4"/>
<text x="256.8" y="421.3" font-size="8" font-weight="bold" text-anchor="end" fill="#111" stroke="#111" stroke-width="0.1">0</text>
<line x1="257.30" y1="397.55" x2="261.70" y2="397.55" stroke="#111" stroke-width="1.4"/>
<text x="256.8" y="400.05" font-size="8" font-weight="bold" text-anchor="end" fill="#111" stroke="#111" stroke-width="0.1">500</text>
<line x1="257.30" y1="376.30" x2="261.70" y2="376.30" stroke="#111" stroke-width="1.4"/>
<text x="256.8" y="378.8" font-size="8" font-weight="bold" text-anchor="end" fill="#111" stroke="#111" stroke-width="0.1">1000</text>
<line x1="257.30" y1="355.05" x2="261.70" y2="355.05" stroke="#111" stroke-width="1.4"/>
<text x="256.8" y="357.55" font-size="8" font-weight="bold" text-anchor="end" fill="#111" stroke="#111" stroke-width="0.1">1500</text>
<line x1="257.30" y1="333.80" x2="261.70" y2="333.80" stroke="#111" stroke-width="1.4"/>
<text x="256.8" y="336.3" font-size="8" font-weight="bold" text-anchor="end" fill="#111" stroke="#111" stroke-width="0.1">2000</text>
<line x1="257.30" y1="312.55" x2="261.70" y2="312.55" stroke="#111" stroke-width="1.4"/>
<text x="256.8" y="315.05" font-size="8" font-weight="bold" text-anchor="end" fill="#111" stroke="#111" stroke-width="0.1">2500</text>
<line x1="260.90" y1="418.80" x2="422.30" y2="418.80" stroke="#111" stroke-width="1.6"/>
<line x1="261.70" y1="418.80" x2="261.70" y2="422.20" stroke="#111" stroke-width="1.4"/>
<text x="261.7" y="431.4" font-size="7.6" font-weight="bold" text-anchor="middle" fill="#111" stroke="#111" stroke-width="0.1">0</text>
<line x1="301.85" y1="418.80" x2="301.85" y2="422.20" stroke="#111" stroke-width="1.4"/>
<text x="301.85" y="431.4" font-size="7.6" font-weight="bold" text-anchor="middle" fill="#111" stroke="#111" stroke-width="0.1">5</text>
<line x1="342.00" y1="418.80" x2="342.00" y2="422.20" stroke="#111" stroke-width="1.4"/>
<text x="342.0" y="431.4" font-size="7.6" font-weight="bold" text-anchor="middle" fill="#111" stroke="#111" stroke-width="0.1">10</text>
<line x1="382.15" y1="418.80" x2="382.15" y2="422.20" stroke="#111" stroke-width="1.4"/>
<text x="382.15" y="431.4" font-size="7.6" font-weight="bold" text-anchor="middle" fill="#111" stroke="#111" stroke-width="0.1">15</text>
<line x1="422.30" y1="418.80" x2="422.30" y2="422.20" stroke="#111" stroke-width="1.4"/>
<text x="422.3" y="431.4" font-size="7.6" font-weight="bold" text-anchor="middle" fill="#111" stroke="#111" stroke-width="0.1">20</text>
<text transform="translate(230.3,409.5) rotate(-90)" x="0" y="0" font-size="8.6" font-weight="bold" textLength="89" lengthAdjust="spacingAndGlyphs" fill="#111" stroke="#111" stroke-width="0.3">Tumor Volume (mm)3</text>
<text x="296.6" y="443.6" font-size="8.6" font-weight="bold" textLength="90" lengthAdjust="spacingAndGlyphs" fill="#111" stroke="#111" stroke-width="0.35">Days after inoculation</text>
<line x1="325.94" y1="409.88" x2="325.94" y2="414.98" stroke="#5e9c47" stroke-width="1.3"/>
<line x1="323.54" y1="409.88" x2="328.34" y2="409.88" stroke="#5e9c47" stroke-width="1.3"/>
<line x1="323.54" y1="414.98" x2="328.34" y2="414.98" stroke="#5e9c47" stroke-width="1.3"/>
<line x1="342.00" y1="405.20" x2="342.00" y2="412.00" stroke="#5e9c47" stroke-width="1.3"/>
<line x1="339.60" y1="405.20" x2="344.40" y2="405.20" stroke="#5e9c47" stroke-width="1.3"/>
<line x1="339.60" y1="412.00" x2="344.40" y2="412.00" stroke="#5e9c47" stroke-width="1.3"/>
<line x1="366.09" y1="393.73" x2="366.09" y2="406.48" stroke="#5e9c47" stroke-width="1.3"/>
<line x1="363.69" y1="393.73" x2="368.49" y2="393.73" stroke="#5e9c47" stroke-width="1.3"/>
<line x1="363.69" y1="406.48" x2="368.49" y2="406.48" stroke="#5e9c47" stroke-width="1.3"/>
<line x1="382.15" y1="381.82" x2="382.15" y2="403.07" stroke="#5e9c47" stroke-width="1.3"/>
<line x1="379.75" y1="381.82" x2="384.55" y2="381.82" stroke="#5e9c47" stroke-width="1.3"/>
<line x1="379.75" y1="403.07" x2="384.55" y2="403.07" stroke="#5e9c47" stroke-width="1.3"/>
<line x1="414.27" y1="340.18" x2="414.27" y2="371.62" stroke="#5e9c47" stroke-width="1.3"/>
<line x1="411.87" y1="340.18" x2="416.67" y2="340.18" stroke="#5e9c47" stroke-width="1.3"/>
<line x1="411.87" y1="371.62" x2="416.67" y2="371.62" stroke="#5e9c47" stroke-width="1.3"/>
<polyline points="261.70,418.80 325.94,412.43 342.00,408.60 366.09,400.10 382.15,392.45 414.27,355.90" fill="none" stroke="#5e9c47" stroke-width="2.1" stroke-linejoin="round"/>
<path d="M261.70,416.10 L264.20,420.70 L259.20,420.70 Z" fill="#5e9c47"/>
<path d="M325.94,409.72 L328.44,414.33 L323.44,414.33 Z" fill="#5e9c47"/>
<path d="M342.00,405.90 L344.50,410.50 L339.50,410.50 Z" fill="#5e9c47"/>
<path d="M366.09,397.40 L368.59,402.00 L363.59,402.00 Z" fill="#5e9c47"/>
<path d="M382.15,389.75 L384.65,394.35 L379.65,394.35 Z" fill="#5e9c47"/>
<path d="M414.27,353.20 L416.77,357.80 L411.77,357.80 Z" fill="#5e9c47"/>
<line x1="325.94" y1="409.66" x2="325.94" y2="413.91" stroke="#b81e1a" stroke-width="1.3"/>
<line x1="323.54" y1="409.66" x2="328.34" y2="409.66" stroke="#b81e1a" stroke-width="1.3"/>
<line x1="323.54" y1="413.91" x2="328.34" y2="413.91" stroke="#b81e1a" stroke-width="1.3"/>
<line x1="342.00" y1="405.62" x2="342.00" y2="412.43" stroke="#b81e1a" stroke-width="1.3"/>
<line x1="339.60" y1="405.62" x2="344.40" y2="405.62" stroke="#b81e1a" stroke-width="1.3"/>
<line x1="339.60" y1="412.43" x2="344.40" y2="412.43" stroke="#b81e1a" stroke-width="1.3"/>
<line x1="366.09" y1="399.55" x2="366.09" y2="408.05" stroke="#b81e1a" stroke-width="1.3"/>
<line x1="363.69" y1="399.55" x2="368.49" y2="399.55" stroke="#b81e1a" stroke-width="1.3"/>
<line x1="363.69" y1="408.05" x2="368.49" y2="408.05" stroke="#b81e1a" stroke-width="1.3"/>
<line x1="382.15" y1="389.22" x2="382.15" y2="406.22" stroke="#b81e1a" stroke-width="1.3"/>
<line x1="379.75" y1="389.22" x2="384.55" y2="389.22" stroke="#b81e1a" stroke-width="1.3"/>
<line x1="379.75" y1="406.22" x2="384.55" y2="406.22" stroke="#b81e1a" stroke-width="1.3"/>
<line x1="414.27" y1="329.34" x2="414.27" y2="381.61" stroke="#b81e1a" stroke-width="1.3"/>
<line x1="411.87" y1="329.34" x2="416.67" y2="329.34" stroke="#b81e1a" stroke-width="1.3"/>
<line x1="411.87" y1="381.61" x2="416.67" y2="381.61" stroke="#b81e1a" stroke-width="1.3"/>
<polyline points="261.70,418.80 325.94,411.79 342.00,409.03 366.09,403.80 382.15,397.72 414.27,355.48" fill="none" stroke="#b81e1a" stroke-width="2.1" stroke-linejoin="round"/>
<rect x="259.60" y="416.70" width="4.20" height="4.20" fill="#b81e1a"/>
<rect x="323.84" y="409.69" width="4.20" height="4.20" fill="#b81e1a"/>
<rect x="339.90" y="406.93" width="4.20" height="4.20" fill="#b81e1a"/>
<rect x="363.99" y="401.70" width="4.20" height="4.20" fill="#b81e1a"/>
<rect x="380.05" y="395.62" width="4.20" height="4.20" fill="#b81e1a"/>
<rect x="412.17" y="353.38" width="4.20" height="4.20" fill="#b81e1a"/>
<line x1="325.94" y1="409.88" x2="325.94" y2="414.98" stroke="#6c4b8e" stroke-width="1.3"/>
<line x1="323.54" y1="409.88" x2="328.34" y2="409.88" stroke="#6c4b8e" stroke-width="1.3"/>
<line x1="323.54" y1="414.98" x2="328.34" y2="414.98" stroke="#6c4b8e" stroke-width="1.3"/>
<line x1="342.00" y1="398.40" x2="342.00" y2="416.25" stroke="#6c4b8e" stroke-width="1.3"/>
<line x1="339.60" y1="398.40" x2="344.40" y2="398.40" stroke="#6c4b8e" stroke-width="1.3"/>
<line x1="339.60" y1="416.25" x2="344.40" y2="416.25" stroke="#6c4b8e" stroke-width="1.3"/>
<line x1="366.09" y1="388.80" x2="366.09" y2="413.02" stroke="#6c4b8e" stroke-width="1.3"/>
<line x1="363.69" y1="388.80" x2="368.49" y2="388.80" stroke="#6c4b8e" stroke-width="1.3"/>
<line x1="363.69" y1="413.02" x2="368.49" y2="413.02" stroke="#6c4b8e" stroke-width="1.3"/>
<line x1="382.15" y1="379.15" x2="382.15" y2="397.85" stroke="#6c4b8e" stroke-width="1.3"/>
<line x1="379.75" y1="379.15" x2="384.55" y2="379.15" stroke="#6c4b8e" stroke-width="1.3"/>
<line x1="379.75" y1="397.85" x2="384.55" y2="397.85" stroke="#6c4b8e" stroke-width="1.3"/>
<line x1="414.27" y1="318.59" x2="414.27" y2="381.31" stroke="#6c4b8e" stroke-width="1.3"/>
<line x1="411.87" y1="318.59" x2="416.67" y2="318.59" stroke="#6c4b8e" stroke-width="1.3"/>
<line x1="411.87" y1="381.31" x2="416.67" y2="381.31" stroke="#6c4b8e" stroke-width="1.3"/>
<polyline points="261.70,418.80 325.94,412.43 342.00,407.32 366.09,400.91 382.15,388.50 414.27,349.95" fill="none" stroke="#6c4b8e" stroke-width="2.1" stroke-linejoin="round"/>
<path d="M261.70,421.50 L264.20,416.90 L259.20,416.90 Z" fill="#6c4b8e"/>
<path d="M325.94,415.13 L328.44,410.52 L323.44,410.52 Z" fill="#6c4b8e"/>
<path d="M342.00,410.03 L344.50,405.42 L339.50,405.42 Z" fill="#6c4b8e"/>
<path d="M366.09,403.61 L368.59,399.01 L363.59,399.01 Z" fill="#6c4b8e"/>
<path d="M382.15,391.20 L384.65,386.60 L379.65,386.60 Z" fill="#6c4b8e"/>
<path d="M414.27,352.65 L416.77,348.05 L411.77,348.05 Z" fill="#6c4b8e"/>
<line x1="325.94" y1="409.03" x2="325.94" y2="414.12" stroke="#343f8e" stroke-width="1.3"/>
<line x1="323.54" y1="409.03" x2="328.34" y2="409.03" stroke="#343f8e" stroke-width="1.3"/>
<line x1="323.54" y1="414.12" x2="328.34" y2="414.12" stroke="#343f8e" stroke-width="1.3"/>
<line x1="342.00" y1="401.80" x2="342.00" y2="412.00" stroke="#343f8e" stroke-width="1.3"/>
<line x1="339.60" y1="401.80" x2="344.40" y2="401.80" stroke="#343f8e" stroke-width="1.3"/>
<line x1="339.60" y1="412.00" x2="344.40" y2="412.00" stroke="#343f8e" stroke-width="1.3"/>
<line x1="366.09" y1="389.64" x2="366.09" y2="405.80" stroke="#343f8e" stroke-width="1.3"/>
<line x1="363.69" y1="389.64" x2="368.49" y2="389.64" stroke="#343f8e" stroke-width="1.3"/>
<line x1="363.69" y1="405.80" x2="368.49" y2="405.80" stroke="#343f8e" stroke-width="1.3"/>
<line x1="382.15" y1="366.31" x2="382.15" y2="397.85" stroke="#343f8e" stroke-width="1.3"/>
<line x1="379.75" y1="366.31" x2="384.55" y2="366.31" stroke="#343f8e" stroke-width="1.3"/>
<line x1="379.75" y1="397.85" x2="384.55" y2="397.85" stroke="#343f8e" stroke-width="1.3"/>
<line x1="414.27" y1="336.56" x2="414.27" y2="368.44" stroke="#343f8e" stroke-width="1.3"/>
<line x1="411.87" y1="336.56" x2="416.67" y2="336.56" stroke="#343f8e" stroke-width="1.3"/>
<line x1="411.87" y1="368.44" x2="416.67" y2="368.44" stroke="#343f8e" stroke-width="1.3"/>
<polyline points="261.70,418.80 325.94,411.57 342.00,406.90 366.09,397.72 382.15,382.08 414.27,352.50" fill="none" stroke="#343f8e" stroke-width="2.1" stroke-linejoin="round"/>
<circle cx="261.70" cy="418.80" r="2.30" fill="#343f8e"/>
<circle cx="325.94" cy="411.57" r="2.30" fill="#343f8e"/>
<circle cx="342.00" cy="406.90" r="2.30" fill="#343f8e"/>
<circle cx="366.09" cy="397.72" r="2.30" fill="#343f8e"/>
<circle cx="382.15" cy="382.08" r="2.30" fill="#343f8e"/>
<circle cx="414.27" cy="352.50" r="2.30" fill="#343f8e"/>
<line x1="430.60" y1="319.20" x2="443.50" y2="319.20" stroke="#343f8e" stroke-width="2.1"/>
<circle cx="437.00" cy="319.20" r="1.70" fill="#343f8e"/>
<text x="449.6" y="322.6" font-size="9.7" textLength="45.5" lengthAdjust="spacingAndGlyphs" fill="#111" stroke="#111" stroke-width="0.35">Non treated</text>
<line x1="430.60" y1="331.83" x2="443.50" y2="331.83" stroke="#5e9c47" stroke-width="2.1"/>
<path d="M437.00,329.73 L438.90,333.13 L435.10,333.13 Z" fill="#5e9c47"/>
<text x="449.6" y="335.23" font-size="9.7" textLength="55" lengthAdjust="spacingAndGlyphs" fill="#111" stroke="#111" stroke-width="0.35">Ibrutinib alone</text>
<line x1="430.60" y1="344.46" x2="443.50" y2="344.46" stroke="#b81e1a" stroke-width="2.1"/>
<rect x="435.50" y="342.96" width="3.00" height="3.00" fill="#b81e1a"/>
<text x="450.6" y="347.86" font-size="9.7" textLength="42.5" lengthAdjust="spacingAndGlyphs" fill="#111" stroke="#111" stroke-width="0.35">CpG alone</text>
<line x1="430.60" y1="357.09" x2="443.50" y2="357.09" stroke="#6c4b8e" stroke-width="2.1"/>
<path d="M437.00,359.19 L438.90,355.79 L435.10,355.79 Z" fill="#6c4b8e"/>
<text x="449.6" y="360.49" font-size="9.7" textLength="68.5" lengthAdjust="spacingAndGlyphs" fill="#111" stroke="#111" stroke-width="0.35">Ibrutinib and CpG</text>
</svg></body></html>
